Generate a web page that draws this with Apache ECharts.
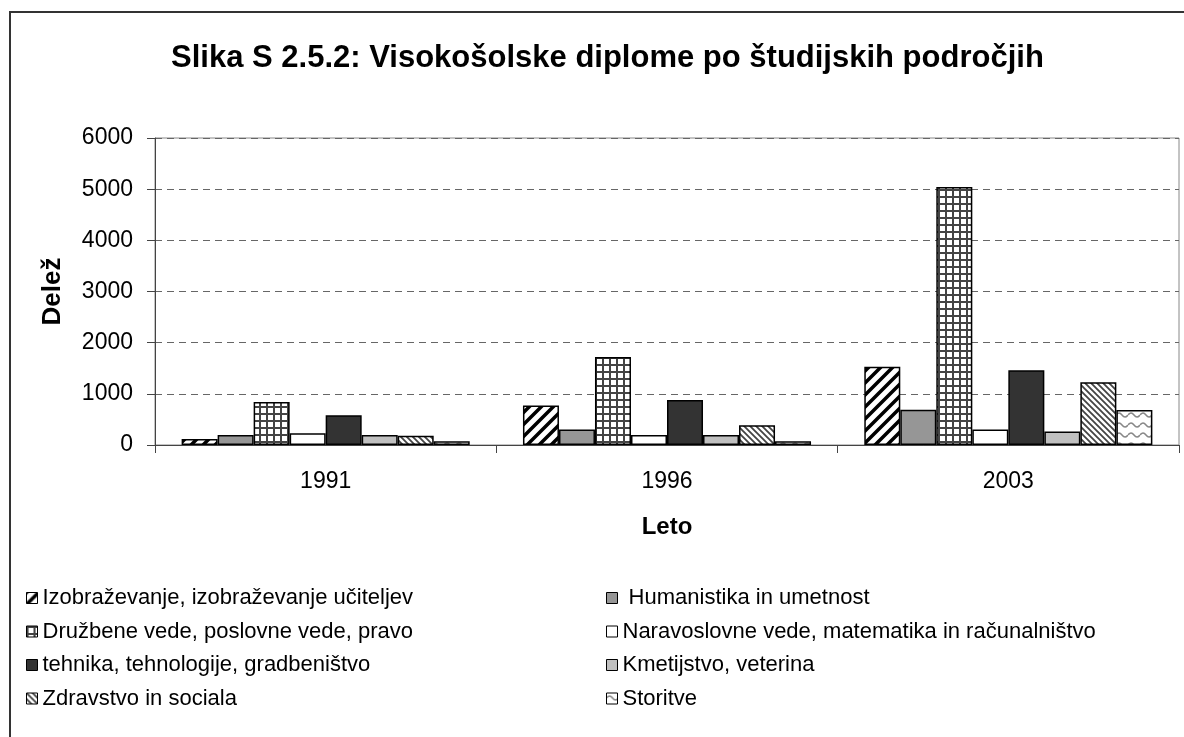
<!DOCTYPE html>
<html>
<head>
<meta charset="utf-8">
<title>Visokošolske diplome po študijskih področjih</title>
<script src="https://cdn.jsdelivr.net/npm/echarts@6/dist/echarts.min.js"></script>
<style>
  html, body { margin: 0; padding: 0; background: #fff; }
  #chart { width: 1184px; height: 737px; }
</style>
</head>
<body>
<div id="chart"></div>
<script>
// 数据
var years = ['1991', '1996', '2003'];
var seriesNames = [
  'Izobraževanje, izobraževanje učiteljev',
  ' Humanistika in umetnost',
  'Družbene vede, poslovne vede, pravo',
  'Naravoslovne vede, matematika in računalništvo',
  'tehnika, tehnologije, gradbeništvo',
  'Kmetijstvo, veterina',
  'Zdravstvo in sociala',
  'Storitve'
];
var izobrazevanje = [115, 770, 1530];
var humanistika = [195, 305, 690];
var druzbene = [840, 1720, 5040];
var naravoslovne = [230, 195, 305];
var tehnika = [580, 880, 1460];
var kmetijstvo = [195, 195, 265];
var zdravstvo = [180, 385, 1225];
var storitve = [75, 75, 685];
var yTicks = [0, 1000, 2000, 3000, 4000, 5000, 6000];

var FONT = "'Liberation Sans', Arial, sans-serif";

// 生成填充图案
function makePattern(w, h, draw) {
  var c = document.createElement('canvas');
  c.width = w;
  c.height = h;
  var ctx = c.getContext('2d');
  ctx.fillStyle = '#fff';
  ctx.fillRect(0, 0, w, h);
  draw(ctx);
  return { image: c, repeat: 'repeat' };
}

// 宽斜线 /
var wideDiag = makePattern(12, 12, function (ctx) {
  ctx.strokeStyle = '#000';
  ctx.lineWidth = 3.5;
  ctx.beginPath();
  ctx.moveTo(-3, 15); ctx.lineTo(15, -3);
  ctx.moveTo(-9, 9); ctx.lineTo(9, -9);
  ctx.moveTo(3, 21); ctx.lineTo(21, 3);
  ctx.stroke();
});

// 网格
var gridPat = makePattern(7, 7, function (ctx) {
  ctx.fillStyle = '#444';
  ctx.fillRect(0, 0, 7, 2);
  ctx.fillRect(0, 0, 2, 7);
});

// 密斜线 \
var denseDiag = makePattern(6, 6, function (ctx) {
  ctx.strokeStyle = '#444';
  ctx.lineWidth = 1.8;
  ctx.beginPath();
  ctx.moveTo(-3, -3); ctx.lineTo(9, 9);
  ctx.moveTo(-3, 3); ctx.lineTo(3, 9);
  ctx.moveTo(3, -3); ctx.lineTo(9, 3);
  ctx.stroke();
});

// 波浪线
var wavePat = makePattern(12, 10, function (ctx) {
  ctx.strokeStyle = '#888';
  ctx.lineWidth = 1.5;
  ctx.beginPath();
  ctx.moveTo(0, 5);
  ctx.quadraticCurveTo(3, 1, 6, 5);
  ctx.quadraticCurveTo(9, 9, 12, 5);
  ctx.stroke();
});

var fills = [wideDiag, '#969696', gridPat, '#ffffff', '#333333', '#c0c0c0', denseDiag, wavePat];
var values = [izobrazevanje, humanistika, druzbene, naravoslovne, tehnika, kmetijstvo, zdravstvo, storitve];

var series = seriesNames.map(function (name, i) {
  return {
    name: name,
    type: 'bar',
    barGap: '0%',
    barCategoryGap: '15.6%',
    data: values[i],
    itemStyle: {
      color: fills[i],
      borderColor: '#000',
      borderWidth: 1.5
    }
  };
});

var legendBase = {
  orient: 'vertical',
  top: 582,
  itemWidth: 11,
  itemHeight: 11,
  itemGap: 11.5,
  icon: 'rect',
  selectedMode: false,
  itemStyle: { borderColor: '#000', borderWidth: 1 },
  textStyle: { fontFamily: FONT, fontSize: 22, color: '#000' }
};

var chart = echarts.init(document.getElementById('chart'), null, { renderer: 'canvas' });

chart.setOption({
  backgroundColor: '#fff',
  animation: false,
  title: {
    text: 'Slika S 2.5.2: Visokošolske diplome po študijskih področjih',
    left: 166,
    top: 38,
    textStyle: { fontFamily: FONT, fontSize: 31, fontWeight: 'bold', color: '#000' }
  },
  legend: [
    Object.assign({}, legendBase, { left: 21, data: [seriesNames[0], seriesNames[2], seriesNames[4], seriesNames[6]] }),
    Object.assign({}, legendBase, { left: 601, data: [seriesNames[1], seriesNames[3], seriesNames[5], seriesNames[7]] })
  ],
  grid: {
    left: 155,
    right: 5,
    top: 138,
    bottom: 292,
    show: true,
    borderColor: '#888',
    borderWidth: 1
  },
  xAxis: {
    type: 'category',
    data: years,
    name: 'Leto',
    nameLocation: 'middle',
    nameGap: 70,
    nameTextStyle: { fontFamily: FONT, fontSize: 24, fontWeight: 'bold', color: '#000' },
    axisLine: { lineStyle: { color: '#444', width: 1 } },
    axisTick: { show: true, length: 8, lineStyle: { color: '#444' } },
    axisLabel: { fontFamily: FONT, fontSize: 23, color: '#000', margin: 25 }
  },
  yAxis: {
    type: 'value',
    min: yTicks[0],
    max: yTicks[yTicks.length - 1],
    interval: yTicks[1] - yTicks[0],
    name: 'Delež',
    nameLocation: 'middle',
    nameGap: 89,
    nameTextStyle: { fontFamily: FONT, fontSize: 26, fontWeight: 'bold', color: '#000' },
    axisLine: { show: true, lineStyle: { color: '#444', width: 1 } },
    axisTick: { show: true, length: 8, lineStyle: { color: '#444' } },
    axisLabel: {
      fontFamily: FONT,
      fontSize: 23,
      color: '#000',
      margin: 22,
      formatter: function (v) { return String(v); }
    },
    splitLine: { show: true, lineStyle: { color: '#666', type: [7, 5], width: 1 } }
  },
  graphic: [
    {
      type: 'rect',
      silent: true,
      shape: { x: 10, y: 12, width: 1200, height: 800 },
      style: { fill: 'none', stroke: '#333', lineWidth: 2 }
    }
  ],
  series: series
});
</script>
</body>
</html>
